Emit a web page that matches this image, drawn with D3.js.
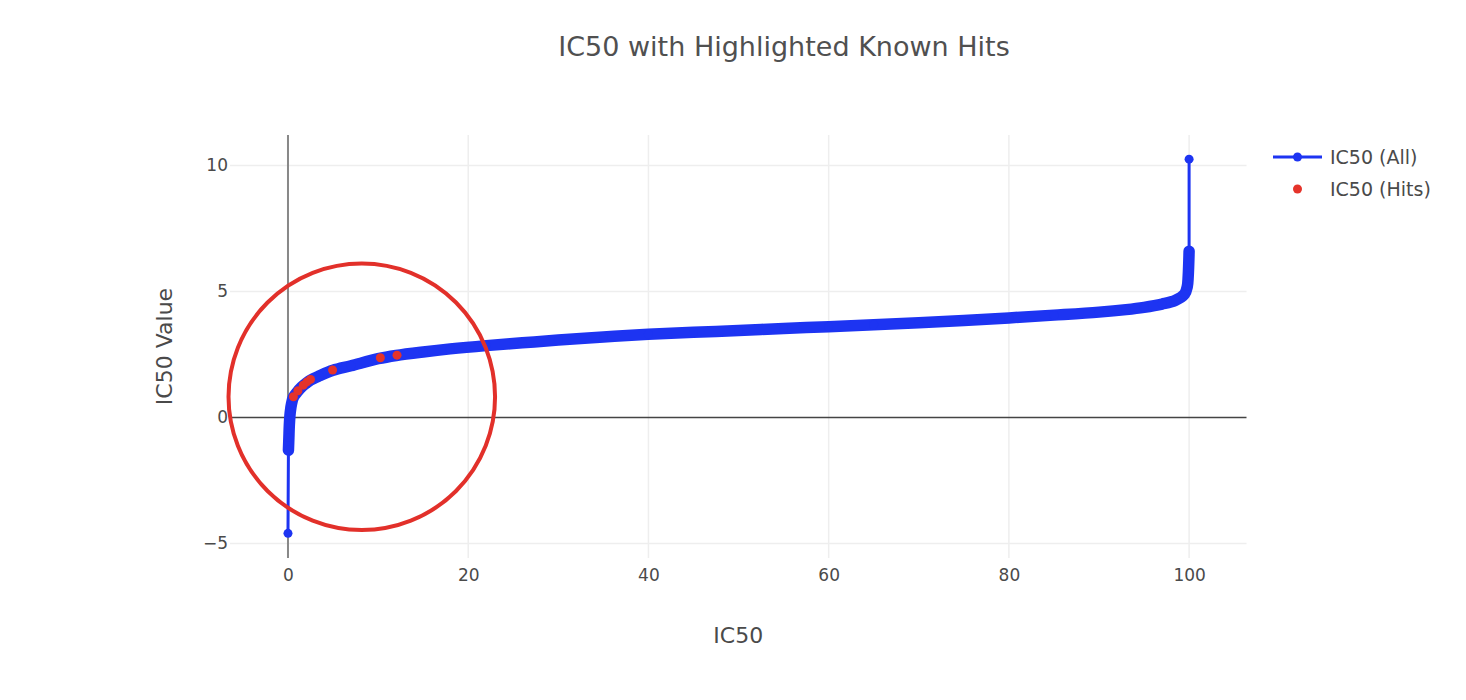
<!DOCTYPE html>
<html><head><meta charset="utf-8">
<script src="https://cdn.jsdelivr.net/npm/d3@7"></script>
<style>body{margin:0;background:#fff}</style>
</head><body><svg id="c" width="1466" height="700"></svg>
<script>
// ---- data ----
const allX = [0, 0.05, 0.1, 0.15, 0.25, 0.4, 0.6, 1.0, 1.5, 2.0, 2.5, 3.5, 5, 7, 10, 12, 15, 18, 22, 26, 30, 35, 40, 45, 50, 55, 60, 65, 70, 75, 80, 85, 90, 93, 95, 97, 98.5, 99.5, 99.8, 99.9, 100, 100];
const allY = [-4.6, -1.3, -0.8, -0.3, 0.2, 0.55, 0.8, 1.0, 1.2, 1.35, 1.48, 1.65, 1.87, 2.05, 2.33, 2.46, 2.6, 2.72, 2.85, 2.96, 3.07, 3.19, 3.3, 3.38, 3.45, 3.53, 3.6, 3.68, 3.76, 3.85, 3.95, 4.06, 4.18, 4.28, 4.37, 4.5, 4.65, 4.9, 5.2, 5.6, 6.6, 10.25];
const hitX = [0.6, 1.1, 1.7, 2.1, 2.5, 4.95, 10.25, 12.1];
const hitY = [0.82, 1.06, 1.28, 1.41, 1.51, 1.88, 2.37, 2.47];
const xTicks = [0, 20, 40, 60, 80, 100];
const yTicks = [-5, 0, 5, 10];
const circleX = [-6.6, 22.98];
const circleY = [-4.47, 6.11];
const seriesNames = ["IC50 (All)", "IC50 (Hits)"];
const titleText = "IC50 with Highlighted Known Hits";
const xTitle = "IC50";
const yTitle = "IC50 Value";

// ---- drawing ----
const FONT = "DejaVu Sans, Verdana, sans-serif";
const BLUE = "#1d34f2", RED = "#e5332a", TXT = "#4a4a4a";
const svg = d3.select("#c");
const L = 230, R = 1246.5, T = 135, B = 558;
const x = d3.scaleLinear().domain([-6.435, 106.37]).range([L, R]);
const y = d3.scaleLinear().domain([-5.58, 11.21]).range([B, T]);

// gridlines
svg.append("g").selectAll("line").data(xTicks.filter(d => d !== 0)).join("line")
  .attr("x1", d => x(d)).attr("x2", d => x(d)).attr("y1", T).attr("y2", B)
  .attr("stroke", "#eeeeee").attr("stroke-width", 1.5);
svg.append("g").selectAll("line").data(yTicks.filter(d => d !== 0)).join("line")
  .attr("y1", d => y(d)).attr("y2", d => y(d)).attr("x1", L).attr("x2", R)
  .attr("stroke", "#eeeeee").attr("stroke-width", 1.5);
// zero lines
svg.append("line").attr("x1", x(0)).attr("x2", x(0)).attr("y1", T).attr("y2", B)
  .attr("stroke", "#888").attr("stroke-width", 2);
svg.append("line").attr("x1", L).attr("x2", R).attr("y1", y(0)).attr("y2", y(0))
  .attr("stroke", "#444").attr("stroke-width", 1.5);

// axes tick labels via d3 axes
const xAxis = svg.append("g").attr("transform", `translate(0,${B})`)
  .call(d3.axisBottom(x).tickValues(xTicks).tickSize(0).tickPadding(11).tickFormat(d3.format("d")));
const yAxis = svg.append("g").attr("transform", `translate(${L},0)`)
  .call(d3.axisLeft(y).tickValues(yTicks).tickSize(0).tickPadding(2).tickFormat(d => d < 0 ? "\u2212" + Math.abs(d) : d));
[xAxis, yAxis].forEach(g => {
  g.select(".domain").remove();
  g.selectAll("text").attr("font-family", FONT).attr("font-size", 17).attr("fill", TXT);
});

// series
const pts = allX.map((v, i) => [v, allY[i]]);
const line = d3.line().x(d => x(d[0])).y(d => y(d[1]));
svg.append("path").attr("d", line(pts)).attr("fill", "none")
  .attr("stroke", BLUE).attr("stroke-width", 3);
svg.append("path").attr("d", line.curve(d3.curveCatmullRom)(pts.slice(1, -1))).attr("fill", "none")
  .attr("stroke", BLUE).attr("stroke-width", 11.5).attr("stroke-linecap", "round").attr("stroke-linejoin", "round");
svg.append("g").selectAll("circle").data(pts).join("circle")
  .attr("cx", d => x(d[0])).attr("cy", d => y(d[1])).attr("r", 4.5).attr("fill", BLUE);

svg.append("g").selectAll("circle").data(hitX.map((v, i) => [v, hitY[i]])).join("circle")
  .attr("cx", d => x(d[0])).attr("cy", d => y(d[1])).attr("r", 4.5).attr("fill", RED);

// annotation circle
svg.append("ellipse")
  .attr("cx", (x(circleX[0]) + x(circleX[1])) / 2).attr("cy", (y(circleY[0]) + y(circleY[1])) / 2)
  .attr("rx", (x(circleX[1]) - x(circleX[0])) / 2).attr("ry", (y(circleY[0]) - y(circleY[1])) / 2)
  .attr("fill", "none").attr("stroke", "#e2302a").attr("stroke-width", 4);

// titles
svg.append("text").attr("x", 784).attr("y", 56).attr("text-anchor", "middle")
  .attr("font-family", FONT).attr("font-size", 27).attr("fill", "#505050").text(titleText);
svg.append("text").attr("x", (L + R) / 2).attr("y", 643).attr("text-anchor", "middle")
  .attr("font-family", FONT).attr("font-size", 22).attr("fill", TXT).text(xTitle);
svg.append("text").attr("transform", `translate(172,${(T + B) / 2}) rotate(-90)`).attr("text-anchor", "middle")
  .attr("font-family", FONT).attr("font-size", 22).attr("fill", TXT).text(yTitle);

// legend
const lg = svg.append("g").attr("transform", "translate(1273,157)");
lg.append("line").attr("x1", 0).attr("x2", 49).attr("y1", 0).attr("y2", 0).attr("stroke", BLUE).attr("stroke-width", 3);
lg.append("circle").attr("cx", 24.5).attr("cy", 0).attr("r", 4.5).attr("fill", BLUE);
lg.append("circle").attr("cx", 24.5).attr("cy", 32).attr("r", 4.5).attr("fill", RED);
lg.selectAll("text").data(seriesNames).join("text")
  .attr("x", 57).attr("y", (d, i) => i * 32).attr("dy", "0.35em")
  .attr("font-family", FONT).attr("font-size", 19).attr("fill", TXT).text(d => d);
</script></body></html>
